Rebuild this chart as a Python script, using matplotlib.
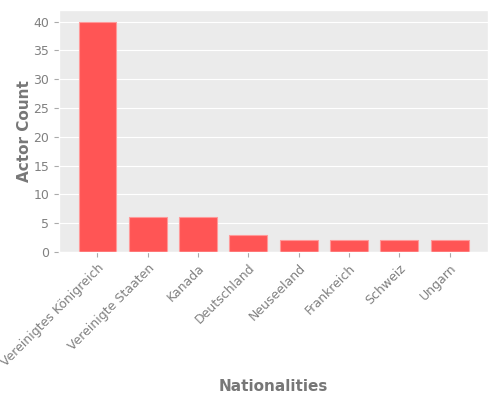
import matplotlib
matplotlib.use("Agg")
import matplotlib.pyplot as plt

nationalities = ["Vereinigtes Königreich", "Vereinigte Staaten", "Kanada", "Deutschland",
                 "Neuseeland", "Frankreich", "Schweiz", "Ungarn"]
counts = [40, 6, 6, 3, 2, 2, 2, 2]

plt.style.use("ggplot")
fig = plt.figure(figsize=(5, 4), dpi=100)
ax = fig.add_axes([0.118, 0.37, 0.858, 0.605])
ax.set_facecolor("#EBEBEB")
ax.bar(range(len(counts)), counts, width=0.75, color="#FF5555", edgecolor="#FF9999", linewidth=0.8)
ax.set_xticks(range(len(counts)))
ax.set_xticklabels(nationalities, rotation=45, ha="right", rotation_mode="anchor", fontsize=9, color="#808080")
ax.tick_params(axis="y", labelsize=9, labelcolor="#808080")
ax.tick_params(axis="both", color="#AAAAAA")
ax.grid(axis="x", visible=False)
ax.set_ylabel("Actor Count", fontsize=11, fontweight="bold", color="#777777", labelpad=1)
ax.set_xlabel("Nationalities", fontsize=11, fontweight="bold", color="#777777", labelpad=7)
fig.savefig("out.png", dpi=100)
